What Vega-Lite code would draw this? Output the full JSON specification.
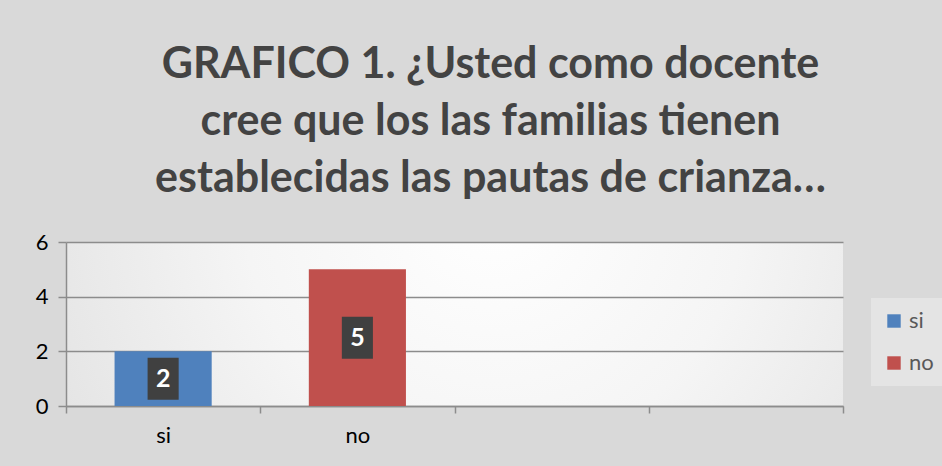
{
  "$schema": "https://vega.github.io/schema/vega-lite/v6.json",
  "autosize": "none",
  "width": 777,
  "height": 164,
  "padding": {"left": 66, "top": 242, "right": 99, "bottom": 60},
  "background": "#d9d9d9",
  "title": {
    "text": ["GRAFICO 1. ¿Usted como docente", "cree que los las familias tienen", "establecidas las pautas de crianza…"],
    "fontSize": 43,
    "font": "Lato",
    "fontWeight": "bold",
    "color": "#434343",
    "lineHeight": 57,
    "anchor": "middle",
    "frame": "group",
    "dx": 36,
    "offset": 30
  },
  "data": {"values": [
    {"respuesta": "si", "valor": 2},
    {"respuesta": "no", "valor": 5}
  ]},
  "layer": [
    {
      "mark": {"type": "bar", "width": {"band": 0.5}},
      "encoding": {
        "x": {"field": "respuesta", "type": "nominal",
              "scale": {"domain": ["si", "no", " ", "  "], "paddingInner": 0, "paddingOuter": 0},
              "axis": {"title": null, "labelAngle": 0, "tickBand": "extent", "labelFontSize": 22, "labelFont": "Lato", "labelColor": "#000000", "labelPadding": 12, "tickSize": 7, "tickColor": "#8c8c8c", "domainColor": "#8c8c8c", "domainWidth": 1.5, "tickWidth": 1.5}},
        "y": {"field": "valor", "type": "quantitative",
              "scale": {"domain": [0, 6], "nice": false},
              "axis": {"title": null, "values": [0, 2, 4, 6], "labelFontSize": 22, "labelFont": "Lato", "labelColor": "#000000", "labelPadding": 10, "tickSize": 8, "tickColor": "#8c8c8c", "domainColor": "#8c8c8c", "domainWidth": 1.5, "tickWidth": 1.5, "gridColor": "#8c8c8c", "gridWidth": 1.5}},
        "color": {"field": "respuesta", "type": "nominal",
                  "scale": {"domain": ["si", "no"], "range": ["#4f81bd", "#c0504d"]},
                  "legend": {"title": null, "orient": "none", "legendX": 805, "legendY": 56, "fillColor": "#e4e4e4", "padding": 12, "symbolType": "square", "symbolSize": 180, "symbolStrokeWidth": 0, "labelFontSize": 22, "labelFont": "Lato", "labelColor": "#595959", "labelOffset": 4, "rowPadding": 20, "symbolOpacity": 1}}
      }
    },
    {
      "mark": {"type": "point", "shape": "M-0.74,-1H0.74V1H-0.74Z", "size": 1764, "filled": true, "color": "#404040", "opacity": 1},
      "encoding": {
        "x": {"field": "respuesta", "type": "nominal"},
        "y": {"field": "valor", "type": "quantitative", "scale": {"domain": [0, 12], "nice": false}, "axis": null}
      }
    },
    {
      "mark": {"type": "text", "color": "white", "fontSize": 25, "fontWeight": "bold", "font": "Lato", "baseline": "middle"},
      "encoding": {
        "x": {"field": "respuesta", "type": "nominal"},
        "y": {"field": "valor", "type": "quantitative", "scale": {"domain": [0, 12], "nice": false}, "axis": null},
        "text": {"field": "valor", "type": "quantitative"}
      }
    }
  ],
  "resolve": {"scale": {"y": "independent"}},
  "config": {
    "view": {"stroke": null, "fill": {"gradient": "radial", "x1": 0.55, "y1": 0.35, "r1": 0, "x2": 0.55, "y2": 0.35, "r2": 0.8, "stops": [{"offset": 0, "color": "#ffffff"}, {"offset": 0.4, "color": "#f5f5f5"}, {"offset": 1, "color": "#dadada"}]}},
    "axis": {"grid": false},
    "axisY": {"grid": true}
  }
}
